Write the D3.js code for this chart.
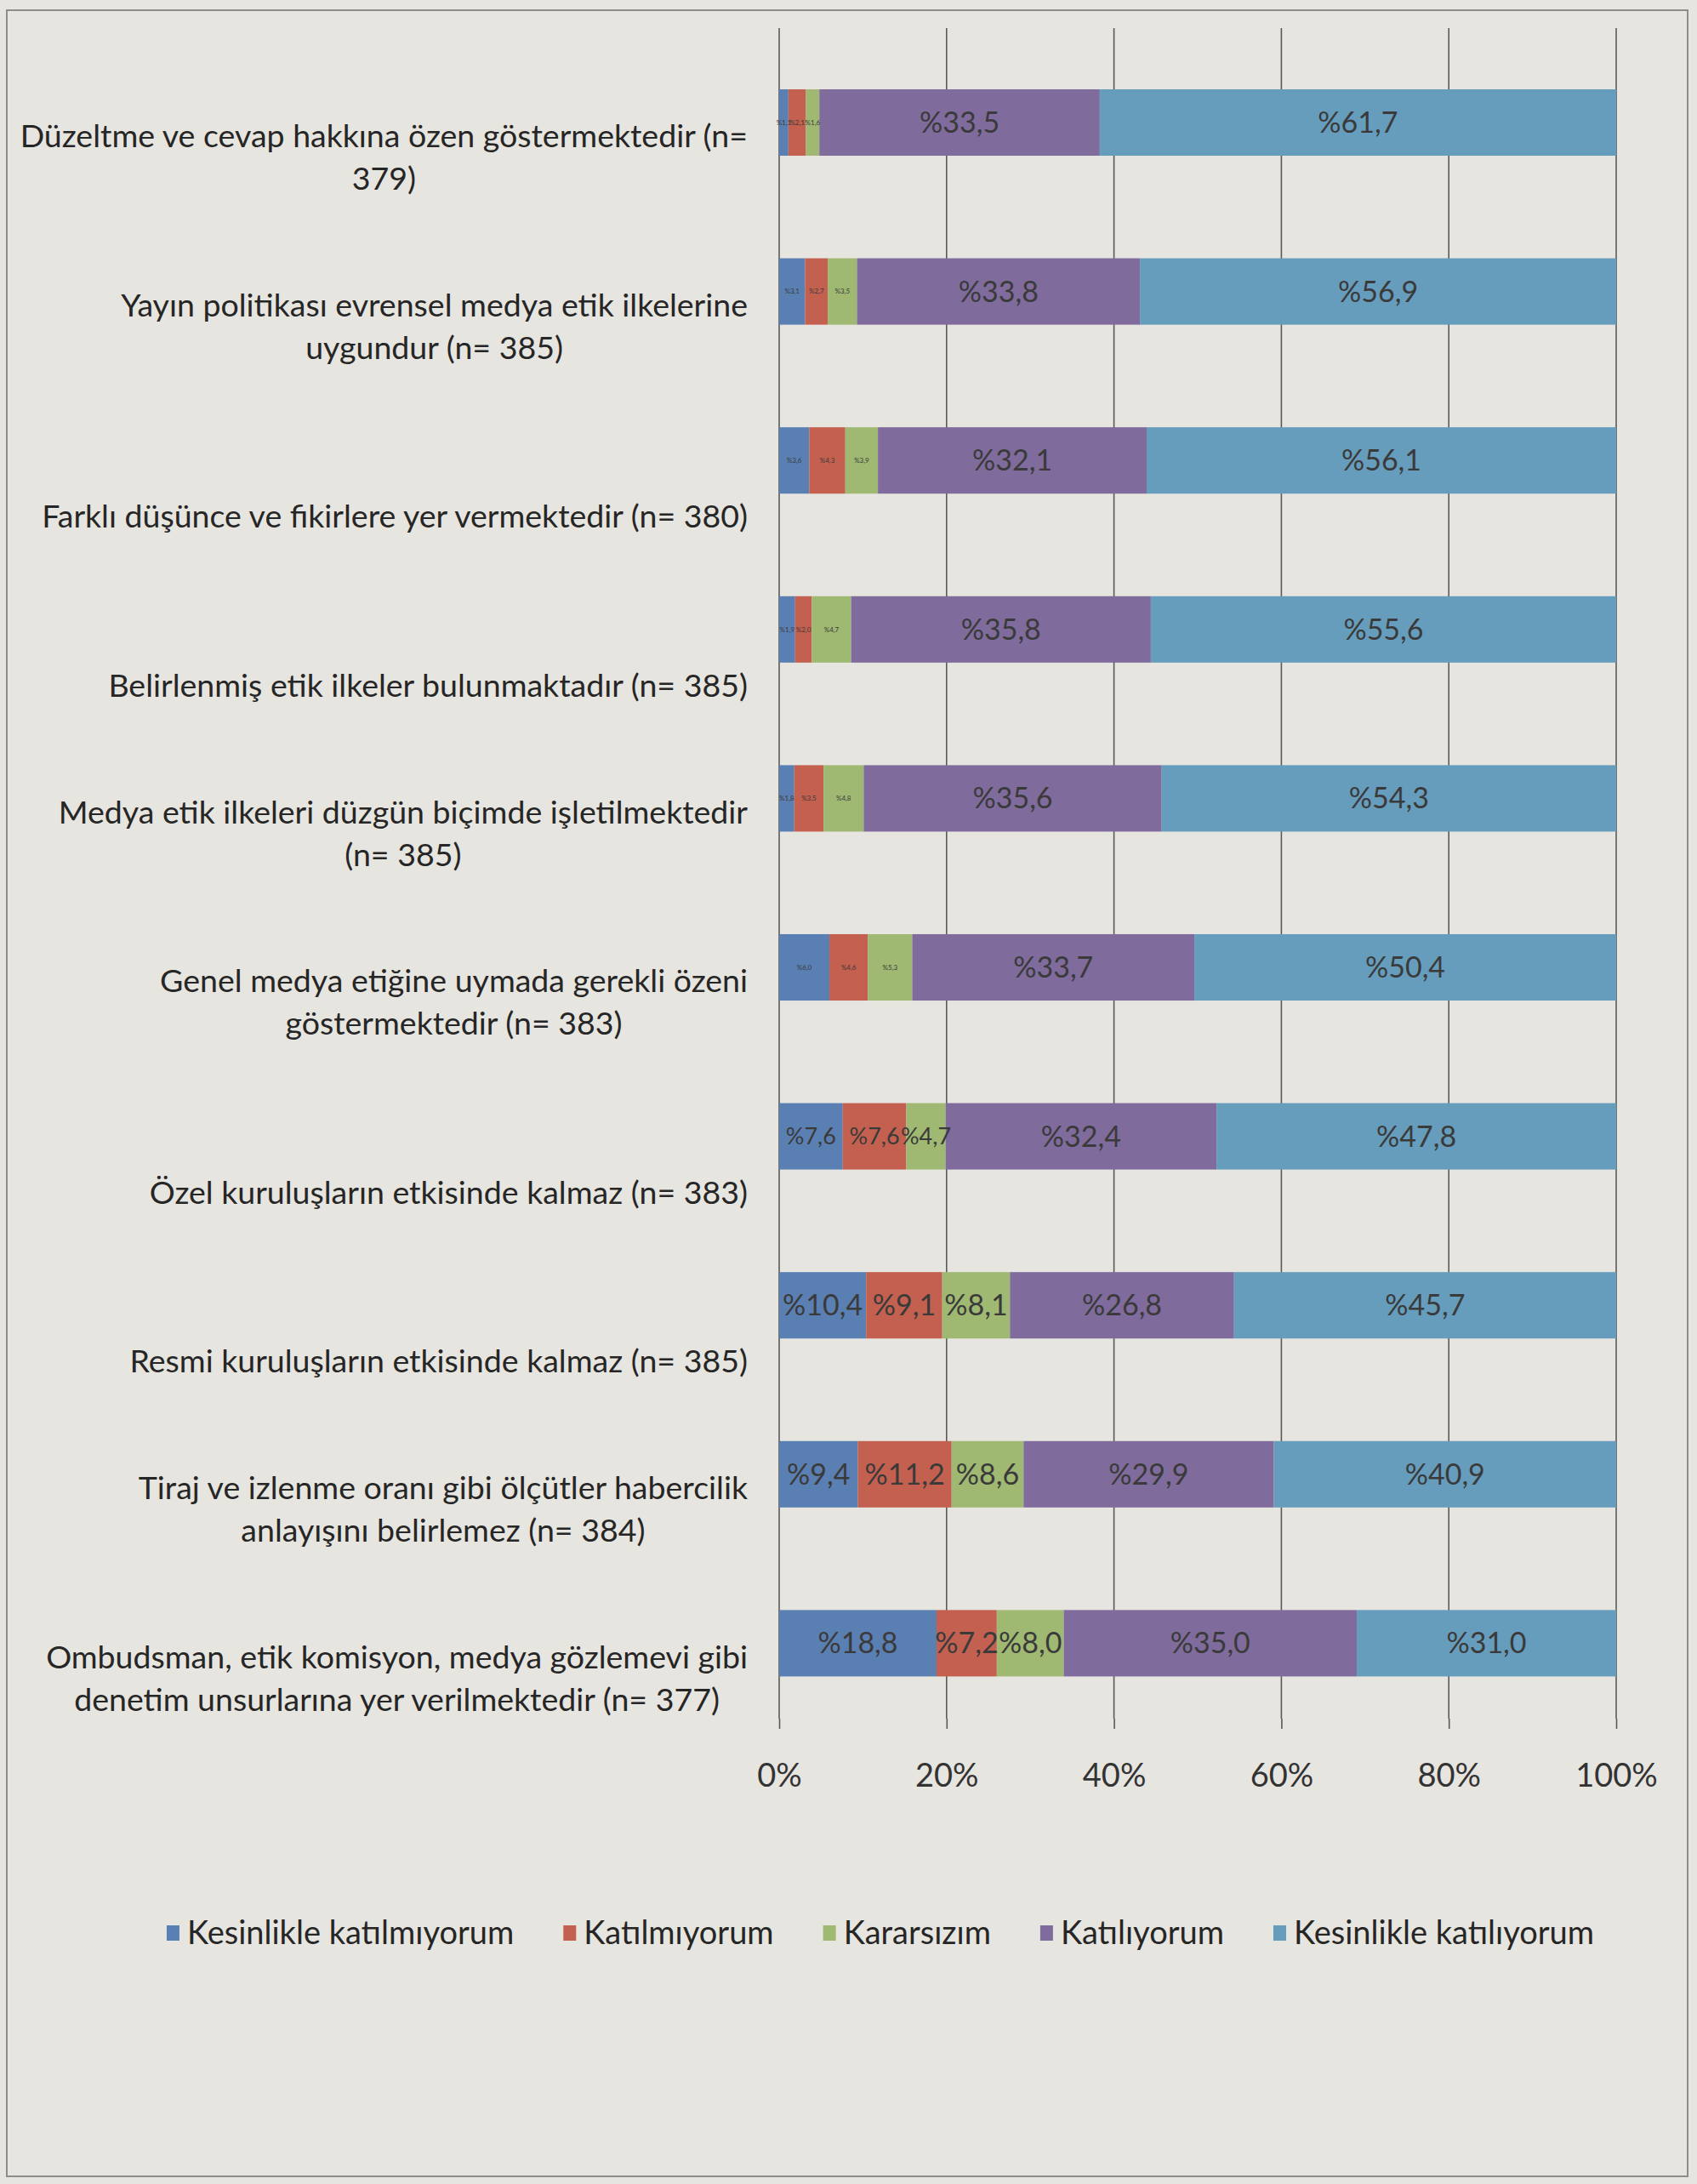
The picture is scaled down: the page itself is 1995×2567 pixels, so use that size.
<!DOCTYPE html>
<html>
<head>
<meta charset="utf-8">
<script src="https://cdn.jsdelivr.net/npm/d3@7"></script>
<style>
  html, body { margin: 0; padding: 0; background: #e7e5e0; }
  svg { display: block; }
  text { font-family: Lato, "Noto Sans", sans-serif; }
</style>
</head>
<body>
<svg id="chart" width="1995" height="2567"></svg>
<script>
// ---------- DATA ----------
const categories = [
  "Düzeltme ve cevap hakkına özen göstermektedir (n=\n379)",
  "Yayın politikası evrensel medya etik ilkelerine\nuygundur (n= 385)",
  "Farklı düşünce ve fikirlere yer vermektedir (n= 380)",
  "Belirlenmiş etik ilkeler bulunmaktadır (n= 385)",
  "Medya etik ilkeleri düzgün biçimde işletilmektedir\n(n= 385)",
  "Genel medya etiğine uymada gerekli özeni\ngöstermektedir (n= 383)",
  "Özel kuruluşların etkisinde kalmaz (n= 383)",
  "Resmi kuruluşların etkisinde kalmaz (n= 385)",
  "Tiraj ve izlenme oranı gibi ölçütler habercilik\nanlayışını belirlemez (n= 384)",
  "Ombudsman, etik komisyon, medya gözlemevi gibi\ndenetim unsurlarına yer verilmektedir (n= 377)"
];
const seriesNames = ["Kesinlikle katılmıyorum", "Katılmıyorum", "Kararsızım", "Katılıyorum", "Kesinlikle katılıyorum"];
const kesinlikleKatilmiyorum = [1.1, 3.1, 3.6, 1.9, 1.8, 6.0, 7.6, 10.4, 9.4, 18.8];
const katilmiyorum          = [2.1, 2.7, 4.3, 2.0, 3.5, 4.6, 7.6, 9.1, 11.2, 7.2];
const kararsizim            = [1.6, 3.5, 3.9, 4.7, 4.8, 5.3, 4.7, 8.1, 8.6, 8.0];
const katiliyorum           = [33.5, 33.8, 32.1, 35.8, 35.6, 33.7, 32.4, 26.8, 29.9, 35.0];
const kesinlikleKatiliyorum = [61.7, 56.9, 56.1, 55.6, 54.3, 50.4, 47.8, 45.7, 40.9, 31.0];
const tickValues = [0, 0.2, 0.4, 0.6, 0.8, 1.0];
const tickLabels = ["0%", "20%", "40%", "60%", "80%", "100%"];

// ---------- TABLE ----------
const seriesArrays = [kesinlikleKatilmiyorum, katilmiyorum, kararsizim, katiliyorum, kesinlikleKatiliyorum];
const table = categories.map((c, i) => {
  const row = { cat: c, idx: i };
  seriesNames.forEach((s, j) => row[s] = seriesArrays[j][i]);
  return row;
});

// ---------- STYLE ----------
const colors = ["#5a7fb3", "#c4604f", "#9fb972", "#7f6b9c", "#669dbd"];
const W = 1995, H = 2567;
const x0 = 916, x1 = 1900;
const gridTop = 33, axisY = 2020;

const svg = d3.select("#chart");

// frame
svg.append("rect").attr("x", 0).attr("y", 0).attr("width", W).attr("height", H).attr("fill", "#e7e5e0");
svg.append("rect").attr("x", 8).attr("y", 12).attr("width", 1976).attr("height", 2546)
  .attr("fill", "none").attr("stroke", "#8e8d8a").attr("stroke-width", 2);

const x = d3.scaleLinear().domain([0, 1]).range([x0, x1]);
const step = 198.6;
const y = d3.scaleBand().domain(d3.range(categories.length))
  .range([144 - step / 2, 144 + step * (categories.length - 0.5)])
  .paddingInner(0.607).paddingOuter(0.3035);

// gridlines
svg.append("g").selectAll("line").data(tickValues).join("line")
  .attr("x1", d => x(d)).attr("x2", d => x(d))
  .attr("y1", gridTop).attr("y2", axisY)
  .attr("stroke", "#5a5a5a").attr("stroke-width", 1.6);

// stack
const stack = d3.stack().keys(seriesNames).offset(d3.stackOffsetExpand);
const stacked = stack(table);

const layers = svg.append("g").selectAll("g").data(stacked).join("g")
  .attr("fill", (d, i) => colors[i]);
layers.selectAll("rect").data(d => d).join("rect")
  .attr("x", d => x(d[0]))
  .attr("width", d => x(d[1]) - x(d[0]))
  .attr("y", d => y(d.data.idx))
  .attr("height", y.bandwidth());

// data labels
const fmt = v => "%" + v.toFixed(1).replace(".", ",");
const lbl = svg.append("g");
stacked.forEach((layer, si) => {
  layer.forEach(d => {
    const i = d.data.idx;
    const tiny = i < 6 && si < 3;
    lbl.append("text")
      .attr("x", (x(d[0]) + x(d[1])) / 2)
      .attr("y", y(i) + y.bandwidth() / 2)
      .attr("dy", "0.35em")
      .attr("text-anchor", "middle")
      .attr("font-size", tiny ? 8 : (i === 6 && si < 3 ? 27 : 34))
      .attr("fill", "#3a3a3a")
      .text(fmt(d.data[seriesNames[si]]));
  });
});

// category labels
const catG = svg.append("g");
categories.forEach((c, i) => {
  const lines = c.split("\n");
  const cy = y(i) + y.bandwidth() / 2 + 66;
  const g = catG.append("g");
  const ts = lines.map((ln, k) => g.append("text")
    .attr("y", cy - (lines.length - 1 - k) * 50)
    .attr("dy", "0.35em")
    .attr("font-size", 37.5)
    .attr("fill", "#262626")
    .attr("text-anchor", "middle")
    .text(ln));
  const maxW = d3.max(ts, t => t.node().getComputedTextLength());
  ts.forEach(t => t.attr("x", 879 - maxW / 2));
});

// x axis
const axis = d3.axisBottom(x).tickValues(tickValues).tickFormat((d, i) => tickLabels[i]).tickSize(12);
const ax = svg.append("g").attr("transform", `translate(0,${axisY})`).call(axis);
ax.select(".domain").remove();
ax.selectAll(".tick line").attr("stroke", "#5a5a5a").attr("stroke-width", 1.6);
ax.selectAll(".tick text").attr("y", 67).attr("dy", "0.35em")
  .attr("font-size", 38).attr("fill", "#333").attr("font-family", "Lato, sans-serif");

// legend
const leg = svg.append("g");
let lx = 0;
const gap = 58;
seriesNames.forEach((s, i) => {
  const g = leg.append("g");
  g.append("rect").attr("x", 0).attr("y", -9).attr("width", 15).attr("height", 18).attr("fill", colors[i]);
  const t = g.append("text").attr("x", 24).attr("y", 0).attr("dy", "0.35em")
    .attr("font-size", 38).attr("fill", "#262626").text(s);
  const w = 24 + t.node().getComputedTextLength();
  g.attr("transform", `translate(${lx},0)`);
  lx += w + gap;
});
const totalW = lx - gap;
leg.attr("transform", `translate(${1035 - totalW / 2},2272)`);
</script>
</body>
</html>
